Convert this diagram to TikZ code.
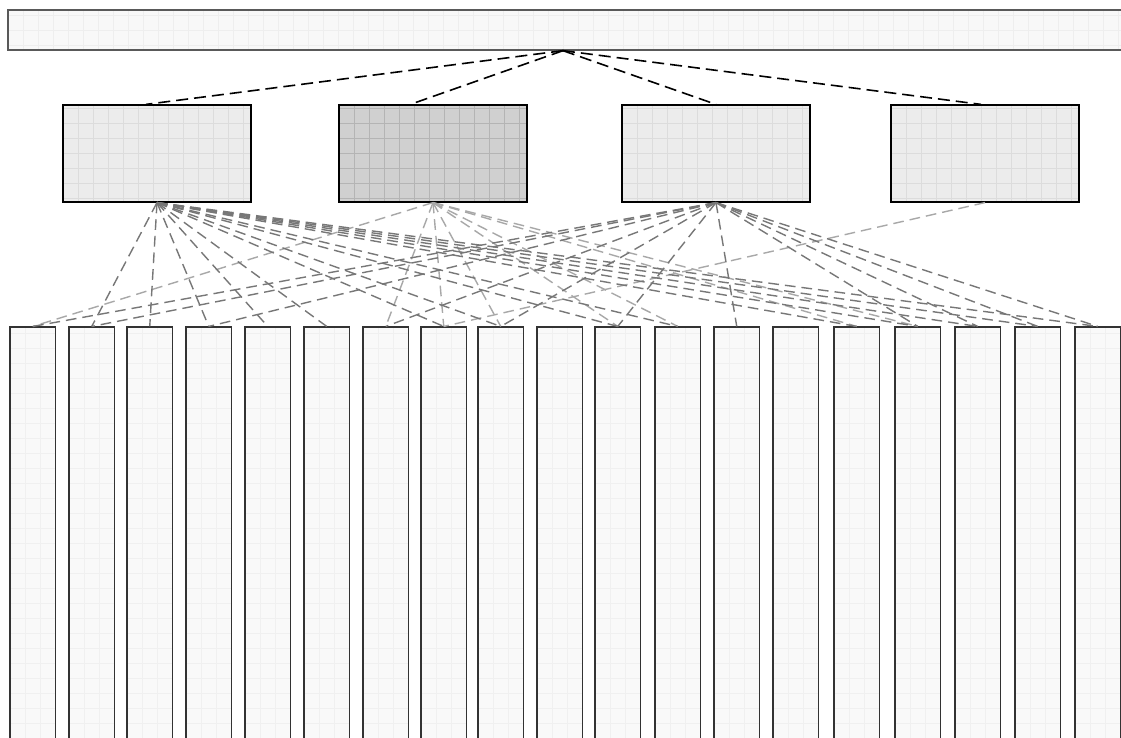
\documentclass[tikz,border=0pt]{standalone}
\usetikzlibrary{fit}
\definecolor{gDark}{HTML}{777777}
\definecolor{gLight}{HTML}{A8A8A8}
\definecolor{barFill}{HTML}{F8F8F8}
\definecolor{barGrid}{HTML}{EEEEEE}
\definecolor{midFill}{HTML}{ECECEC}
\definecolor{midGrid}{HTML}{DCDCDC}
\definecolor{selFill}{HTML}{D0D0D0}
\definecolor{selGrid}{HTML}{B4B4B4}
\definecolor{leafFill}{HTML}{F9F9F9}
\definecolor{leafGrid}{HTML}{F0F0F0}
\begin{document}
\begin{tikzpicture}[x=0.75pt,y=-0.75pt,
  gridded/.style 2 args={inner sep=0pt, fill=#1,
    path picture={\draw[#2, line width=0.35pt]
      (path picture bounding box.south west) grid[step=11.25pt]
      (path picture bounding box.north east);}},
  barbox/.style={gridded={barFill}{barGrid}, draw=black!65, line width=1pt},
  midbox/.style={gridded={midFill}{midGrid}, draw=black, line width=0.9pt},
  selbox/.style={gridded={selFill}{selGrid}, draw=black, line width=0.9pt},
  leafbox/.style={gridded={leafFill}{leafGrid}, draw=black!80, line width=0.85pt},
  topconn/.style={black, dash pattern=on 9pt off 4.5pt, line width=1.2pt},
  conn/.style={dash pattern=on 8pt off 4.5pt, line width=1.05pt},
  dk/.style={conn, draw=gDark},
  lt/.style={conn, draw=gLight}]
\useasboundingbox (0,0) rectangle (1121,738);
\clip (0,0) rectangle (1121,738);
\fill[white] (0,0) rectangle (1121,738);

% top bar
\node[barbox, fit={(8,10) (1130,50)}] (top) {};
\coordinate (hub) at ([xshift=-4.5pt]top.south);

% middle boxes
\node[midbox, fit={(63,105) (251,202)}] (m1) {};
\node[selbox, fit={(339,105) (527,202)}] (m2) {};
\node[midbox, fit={(622,105) (810,202)}] (m3) {};
\node[midbox, fit={(891,105) (1079,202)}] (m4) {};

% bottom boxes
\foreach \l [count=\i] in {10,69,127,186,245,304,363,421,478,537,595,655,714,773,834,895,955,1015,1075}
  \node[leafbox, fit={(\l,327) (\l+45.5,760)}] (b\i) {};

% connectors top -> middle
\draw[topconn] (hub) -- ([xshift=-8.25pt]m1.north);
\draw[topconn] (hub) -- ([xshift=-17pt]m2.north);
\draw[topconn] (hub) -- (m3.north);
\draw[topconn] (hub) -- ([xshift=-3pt]m4.north);

% connectors middle -> bottom
\foreach \t in {1,7,8,9,11,12,15,16}
  \draw[lt] (m2.south) -- (b\t.north);
\draw[lt] (m4.south) -- (b8.north);
\foreach \t in {2,3,4,5,6,8,9,11,12,15,16,17,18,19}
  \draw[dk] (m1.south) -- (b\t.north);
\foreach \t in {1,2,4,7,9,11,13,16,17,18,19}
  \draw[dk] (m3.south) -- (b\t.north);
\end{tikzpicture}
\end{document}
